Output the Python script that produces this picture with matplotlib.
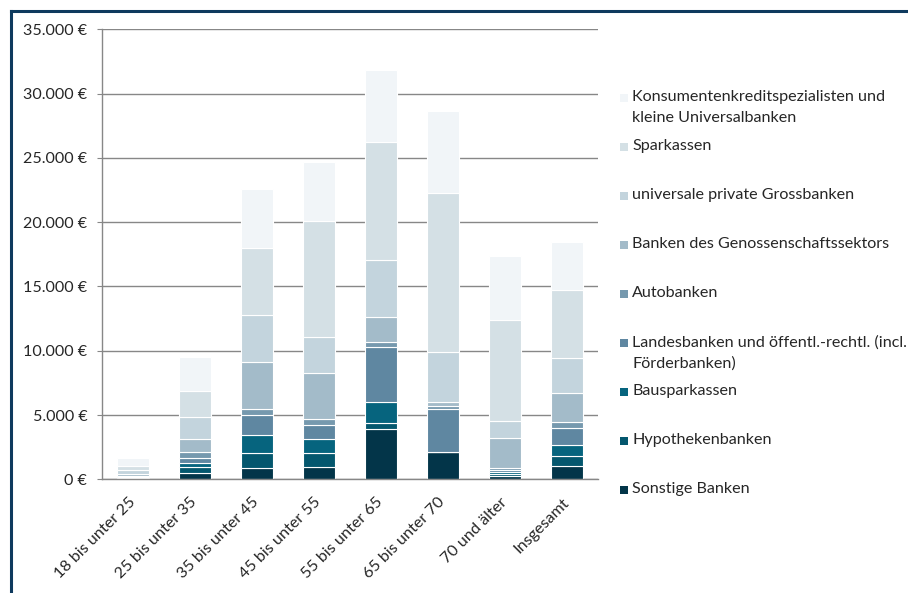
import numpy as np
import matplotlib.pyplot as plt
from matplotlib.lines import Line2D
from matplotlib.patches import Rectangle
from matplotlib.ticker import FuncFormatter

plt.rcParams['font.family'] = ['Lato', 'DejaVu Sans']

categories = ["18 bis unter 25", "25 bis unter 35", "35 bis unter 45", "45 bis unter 55",
              "55 bis unter 65", "65 bis unter 70", "70 und älter", "Insgesamt"]

# Werte je Bankengruppe (von unten nach oben gestapelt)
sonstige = [50, 500, 860, 940, 3910, 2120, 270, 1030]
hypotheken = [40, 440, 1170, 1080, 440, 0, 170, 780]
bausparkassen = [30, 290, 1420, 1100, 1630, 0, 90, 890]
landesbanken = [60, 430, 1530, 1065, 4280, 3310, 170, 1260]
autobanken = [80, 450, 510, 470, 400, 235, 200, 470]
genossen = [150, 1050, 3660, 3600, 1960, 325, 2350, 2290]
grossbanken = [290, 1670, 3650, 2800, 4470, 3890, 1315, 2700]
sparkassen = [365, 2020, 5210, 9000, 9150, 12395, 7840, 5270]
konsumenten = [615, 2680, 4540, 4600, 5580, 6385, 4960, 3800]

labels = ["Sonstige Banken", "Hypothekenbanken", "Bausparkassen",
          "Landesbanken und öffentl.-rechtl. (incl.\nFörderbanken)", "Autobanken",
          "Banken des Genossenschaftssektors", "universale private Grossbanken",
          "Sparkassen", "Konsumentenkreditspezialisten und\nkleine Universalbanken"]
colors = ["#033549", "#04576e", "#06647e", "#5f87a1", "#7699ae",
          "#a3bbc9", "#c3d4dd", "#d4e0e5", "#f1f5f8"]
series = [sonstige, hypotheken, bausparkassen, landesbanken, autobanken,
          genossen, grossbanken, sparkassen, konsumenten]

W, H = 908, 593
fs = 11.6
fig = plt.figure(figsize=(W / 100, H / 100), dpi=100)
ax = fig.add_axes([102 / W, 1 - 479.3 / H, 496 / W, 450 / H])

x = np.arange(len(categories))
bottom = np.zeros(len(categories))
for vals, col in zip(series, colors):
    ax.bar(x, vals, width=0.52, bottom=bottom, color=col, edgecolor="white", linewidth=0.8, zorder=2)
    bottom += np.array(vals)

ax.set_xlim(-0.5, len(categories) - 0.5)
ax.set_ylim(0, 35000)
ax.set_yticks(np.arange(0, 35001, 5000))
ax.yaxis.set_major_formatter(FuncFormatter(lambda v, p: f"{int(v):,}".replace(",", ".") + " €"))
ax.yaxis.grid(True, color="#878787", linewidth=1.0)
ax.set_axisbelow(True)

for s in ["top", "right"]:
    ax.spines[s].set_visible(False)
for s in ["left", "bottom"]:
    ax.spines[s].set_color("#878787")
    ax.spines[s].set_linewidth(1.0)

ax.tick_params(axis="y", length=3.6, color="#878787", pad=7, labelsize=fs, labelcolor="#262626")
ax.tick_params(axis="x", length=0, pad=15, labelsize=fs, labelcolor="#262626")
ax.set_xticks(x)
ax.set_xticklabels(categories, rotation=45, ha="right", va="center", rotation_mode="anchor")

# Legende (oberster Eintrag zuerst)
for i, (lab, col) in enumerate(zip(labels[::-1], colors[::-1])):
    yc = 98 + 49 * i
    fig.add_artist(Rectangle((620 / W, 1 - (yc + 4) / H), 8 / W, 8 / H,
                             transform=fig.transFigure, facecolor=col, edgecolor="none"))
    fig.text(632 / W, 1 - (yc - 8) / H, lab, fontsize=fs, color="#262626",
             va="top", ha="left", linespacing=1.65)

# Rahmen
frame = "#0e3a5e"
fig.add_artist(Line2D([10.5 / W, 10.5 / W], [0, 1 - 10.5 / H], transform=fig.transFigure, color=frame, lw=2.2))
fig.add_artist(Line2D([10.5 / W, 1], [1 - 10.5 / H, 1 - 10.5 / H], transform=fig.transFigure, color=frame, lw=2.2))

fig.savefig("out.png", dpi=100)
